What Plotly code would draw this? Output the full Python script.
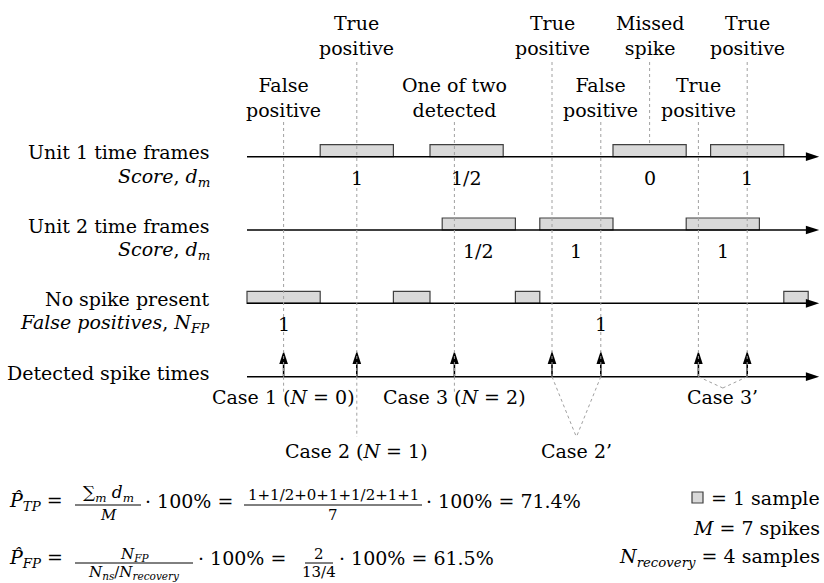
import plotly.graph_objects as go

# ---------------- data (sample units) ----------------
unit1_frames = [(6, 12), (15, 21), (30, 36), (38, 44)]
unit1_scores = ["1", "1/2", "0", "1"]
unit2_frames = [(16, 22), (24, 30), (36, 42)]
unit2_scores = ["1/2", "1", "1"]
no_spike_frames = [(0, 6), (12, 15), (22, 24), (44, 46)]
fp_times = [3, 29]
fp_counts = ["1", "1"]
spike_times = [3, 9, 17, 25, 29, 37, 41]
missed_spikes = [33]
labels_top = [(9, "True<br>positive"), (25, "True<br>positive"),
              (33, "Missed<br>spike"), (41, "True<br>positive")]
labels_low = [(3, "False<br>positive"), (17, "One of two<br>detected"),
              (29, "False<br>positive"), (37, "True<br>positive")]
case_single = [(3, "Case 1 (<i>N</i> = 0)", "up"), (9, "Case 2 (<i>N</i> = 1)", "down"),
               (17, "Case 3 (<i>N</i> = 2)", "up")]
case_pairs = [((25, 29), "Case 2\u2019", "down"), ((37, 41), "Case 3\u2019", "up")]
axis_end = 46.9

# ---------------- layout constants ----------------
W, H = 824, 583
X0, S = 247.0, 12.2          # pixel of sample 0, pixels per sample
FONT = "DejaVu Serif"
FS = 19
GRAY = "#a0a0a0"
BOX_FILL = "#d9d9d9"
BOX_LINE = "#404040"

Y_U1, Y_U2, Y_NS, Y_SP = 156.7, 230.0, 303.3, 376.7
BOX_H = 12
SCORE_DY = 21
SPIKE_LEN = 26

fig = go.Figure()

def px(p):
    return p / W

def txt(x, y, t, size=FS, xanchor="center", xref="x", yanchor="middle"):
    fig.add_annotation(x=x, y=y, xref=xref, yref="y", text=t, showarrow=False,
                       xanchor=xanchor, yanchor=yanchor,
                       font=dict(family=FONT, size=size, color="black"))

def dotted(x0, y0, x1, y1):
    fig.add_shape(type="line", x0=x0, y0=y0, x1=x1, y1=y1, xref="x", yref="y",
                  line=dict(color=GRAY, width=1, dash="dot"), layer="above")

def arrows(xs, ys):
    fig.add_trace(go.Scatter(
        x=xs, y=ys, mode="lines+markers", hoverinfo="skip", showlegend=False,
        line=dict(color="black", width=1.6),
        marker=dict(symbol="arrow", size=14, angleref="previous", color="black",
                    line=dict(width=0))))

def boxes(frames, y):
    for a, b in frames:
        fig.add_shape(type="rect", x0=a, x1=b, y0=y - BOX_H, y1=y, xref="x", yref="y",
                      fillcolor=BOX_FILL, line=dict(color=BOX_LINE, width=1.2), layer="below")

# axes rows (time axes with arrow heads)
ax_x, ax_y = [], []
for y in (Y_U1, Y_U2, Y_NS, Y_SP):
    ax_x += [0, axis_end, None]
    ax_y += [y, y, None]
arrows(ax_x, ax_y)

boxes(unit1_frames, Y_U1)
boxes(unit2_frames, Y_U2)
boxes(no_spike_frames, Y_NS)

# scores
for (a, b), s in zip(unit1_frames, unit1_scores):
    txt((a + b) / 2, Y_U1 + SCORE_DY, s)
for (a, b), s in zip(unit2_frames, unit2_scores):
    txt((a + b) / 2, Y_U2 + SCORE_DY, s)
for t, s in zip(fp_times, fp_counts):
    txt(t, Y_NS + SCORE_DY, s)

# event labels and dotted guides
for t, lab in labels_top:
    txt(t, 35, lab)
for t, lab in labels_low:
    txt(t, 97, lab)
for t, _ in labels_top:
    end = Y_U1 - BOX_H if t in missed_spikes else Y_SP
    dotted(t, 62, t, end)
for t, _ in labels_low:
    dotted(t, 122, t, Y_SP)

# detected spikes (vertical arrows)
sp_x, sp_y = [], []
for t in spike_times:
    sp_x += [t, t, None]
    sp_y += [Y_SP, Y_SP - SPIKE_LEN, None]
arrows(sp_x, sp_y)

# cases
for t, lab, pos in case_single:
    if pos == "up":
        dotted(t, Y_SP, t, 393)
        txt(t, 397, lab)
    else:
        dotted(t, Y_SP, t, 437)
        txt(t, 451, lab)
for (a, b), lab, pos in case_pairs:
    m = (a + b) / 2
    yc = 388 if pos == "up" else 437
    dotted(a, Y_SP, m, yc)
    dotted(b, Y_SP, m, yc)
    txt(m, 397 if pos == "up" else 451, lab)

# row labels
RX = px(212)
txt(RX, 152, "Unit 1 time frames", xanchor="right", xref="paper")
txt(RX, 177, "<i>Score</i>, <i>d<sub>m</sub></i>", xanchor="right", xref="paper")
txt(RX, 226, "Unit 2 time frames", xanchor="right", xref="paper")
txt(RX, 250, "<i>Score</i>, <i>d<sub>m</sub></i>", xanchor="right", xref="paper")
txt(RX, 299, "No spike present", xanchor="right", xref="paper")
txt(RX, 323, "<i>False positives</i>, <i>N<sub>FP</sub></i>", xanchor="right", xref="paper")
txt(RX, 373, "Detected spike times", xanchor="right", xref="paper")

# ---------------- formulas ----------------
def bar(x0, x1, y):
    fig.add_shape(type="line", x0=px(x0), x1=px(x1), y0=y, y1=y, xref="paper", yref="y",
                  line=dict(color="black", width=1))

SM = 15
# formula 1
Y1 = 501
txt(px(7), Y1, "<i>P\u0302</i><sub><i>TP</i></sub> =", xanchor="left", xref="paper")
txt(px(108), 493, "\u2211<sub><i>m</i></sub> <i>d<sub>m</sub></i>", size=17, xref="paper")
bar(75, 141, 505)
txt(px(108), 515, "<i>M</i>", size=SM, xref="paper")
txt(px(143), Y1, "\u00b7 100% =", xanchor="left", xref="paper")
txt(px(333), 495, "1+1/2+0+1+1/2+1+1", size=SM, xref="paper")
bar(244, 422, 505)
txt(px(333), 515, "7", size=SM, xref="paper")
txt(px(424), Y1, "\u00b7 100% = 71.4%", xanchor="left", xref="paper")

# formula 2
Y2 = 558
txt(px(7), Y2, "<i>P\u0302</i><sub><i>FP</i></sub> =", xanchor="left", xref="paper")
txt(px(134), 554, "<i>N<sub>FP</sub></i>", size=SM, xref="paper")
bar(75, 193, 563)
txt(px(134), 572, "<i>N<sub>ns</sub></i>/<i>N<sub>recovery</sub></i>", size=SM, xref="paper")
txt(px(196), Y2, "\u00b7 100% =", xanchor="left", xref="paper")
txt(px(319), 554, "2", size=SM, xref="paper")
bar(305, 333, 563)
txt(px(319), 572, "13/4", size=SM, xref="paper")
txt(px(337), Y2, "\u00b7 100% = 61.5%", xanchor="left", xref="paper")

# legend / notes at right
fig.add_shape(type="rect", x0=px(692), x1=px(703), y0=492, y1=503, xref="paper", yref="y",
              fillcolor=BOX_FILL, line=dict(color=BOX_LINE, width=1.2))
txt(px(822), 498, "= 1 sample", xanchor="right", xref="paper")
txt(px(822), 528, "<i>M</i> = 7 spikes", xanchor="right", xref="paper")
txt(px(822), 557, "<i>N<sub>recovery</sub></i> = 4 samples", xanchor="right", xref="paper")

fig.update_layout(
    width=W, height=H, autosize=False,
    margin=dict(l=0, r=0, t=0, b=0),
    paper_bgcolor="white", plot_bgcolor="white",
    xaxis=dict(range=[(0 - X0) / S, (W - X0) / S], visible=False, fixedrange=True),
    yaxis=dict(range=[H, 0], visible=False, fixedrange=True),
    showlegend=False,
)
fig.write_html("out.html", config={"displayModeBar": False},
               post_script="document.body.style.margin='0';document.body.style.overflow='hidden';")
